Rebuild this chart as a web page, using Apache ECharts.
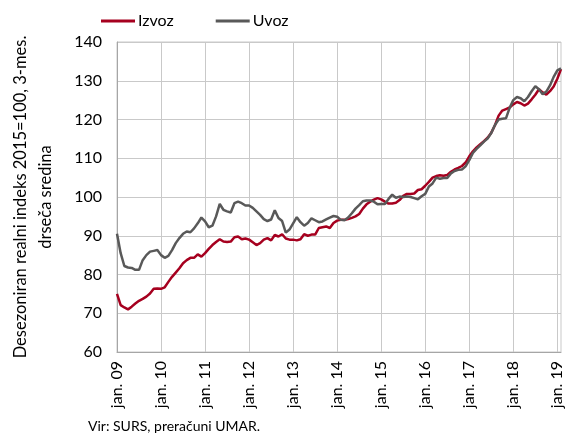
<!DOCTYPE html>
<html>
<head>
<meta charset="utf-8">
<script src="https://cdn.jsdelivr.net/npm/echarts@6/dist/echarts.min.js"></script>
<style>
  html, body { margin: 0; padding: 0; background: #fff; }
  #chart { width: 568px; height: 438px; }
</style>
</head>
<body>
<div id="chart"></div>
<script>
// monthly, jan 2009 .. feb 2019
const years = ['09', '10', '11', '12', '13', '14', '15', '16', '17', '18', '19'];
const months = [];
for (let i = 0; i < 122; i++) {
  months.push('jan. ' + years[Math.floor(i / 12)] + '|' + (i % 12 + 1));
}

const izvoz = [
  75.0, 72.1, 71.5, 71.0, 71.7, 72.5, 73.2, 73.7, 74.3, 75.1, 76.3, 76.4,
  76.3, 76.7, 78.1, 79.4, 80.5, 81.6, 82.9, 83.7, 84.3, 84.3, 85.2, 84.6,
  85.5, 86.6, 87.6, 88.4, 89.1, 88.5, 88.4, 88.5, 89.6, 89.8, 89.1, 89.3,
  89.0, 88.3, 87.6, 88.1, 89.0, 89.4, 88.8, 90.2, 89.8, 90.4, 89.3, 89.0,
  89.0, 88.8, 89.1, 90.4, 90.0, 90.3, 90.3, 92.0, 92.2, 92.4, 92.0, 93.3,
  93.9, 94.1, 94.1, 94.3, 94.6, 95.0, 95.6, 97.0, 98.1, 98.8, 99.3, 99.7,
  99.4, 98.8, 98.3, 98.3, 98.5, 99.2, 100.3, 100.8, 100.8, 100.9, 101.8, 102.0,
  102.9, 103.9, 105.0, 105.4, 105.6, 105.5, 105.7, 106.5, 107.1, 107.5, 108.0, 108.9,
  110.5, 111.8, 112.8, 113.6, 114.4, 115.3, 116.6, 118.5, 121.0, 122.3, 122.7, 123.1,
  123.9, 124.5, 124.2, 123.6, 124.1, 125.2, 126.4, 127.8, 127.0, 126.4, 127.3, 128.5,
  130.5, 133.0
];

const uvoz = [
  90.5, 85.5, 82.2, 81.8, 81.7, 81.2, 81.2, 83.7, 85.0, 85.9, 86.1, 86.3,
  85.0, 84.3, 84.8, 86.3, 88.1, 89.4, 90.5, 91.1, 90.9, 91.9, 93.2, 94.7,
  93.7, 92.2, 92.6, 95.0, 98.2, 96.7, 96.3, 96.0, 98.4, 98.8, 98.4, 97.8,
  97.8, 97.2, 96.3, 95.4, 94.3, 93.8, 94.2, 96.6, 94.6, 93.8, 90.8, 91.6,
  93.2, 94.8, 93.5, 92.6, 93.3, 94.5, 94.0, 93.5, 93.7, 94.2, 94.7, 95.1,
  94.9, 94.1, 94.0, 94.7, 95.8, 97.0, 97.9, 98.9, 99.1, 99.1, 98.8, 98.1,
  98.2, 98.2, 99.5, 100.6, 99.8, 100.1, 100.0, 100.1, 100.0, 99.7, 99.4, 100.2,
  100.8, 102.7, 103.5, 105.0, 104.7, 104.9, 104.9, 106.1, 106.7, 107.0, 107.1, 107.9,
  109.5, 111.4, 112.4, 113.3, 114.3, 115.1, 116.5, 118.6, 120.0, 120.2, 120.3, 123.0,
  125.0, 125.8, 125.5, 124.7, 125.8, 127.3, 128.6, 127.8, 126.5, 127.2, 128.8, 131.0,
  132.7, 133.2
];

const font = 'Lato, "Noto Sans", sans-serif';
const gridColor = '#c9c9c9';
const yearTick = (i) => i % 12 === 0;

const chart = echarts.init(document.getElementById('chart'), undefined, { renderer: 'canvas' });

chart.setOption({
  animation: false,
  textStyle: { fontFamily: font, color: '#000' },
  grid: {
    left: 94, right: 7, top: 42, bottom: 86,
    show: true, borderColor: gridColor, borderWidth: 1
  },
  legend: {
    left: 96, top: 8,
    icon: 'rect',
    itemWidth: 34, itemHeight: 3, itemGap: 42,
    textStyle: { fontSize: 16, fontFamily: font, color: '#000', padding: [0, 0, 0, -2] },
    data: ['Izvoz', 'Uvoz']
  },
  xAxis: {
    type: 'category',
    boundaryGap: false,
    data: months,
    axisLine: { lineStyle: { color: '#a6a6a6' } },
    axisTick: { show: false },
    axisLabel: {
      interval: yearTick,
      rotate: 90,
      fontSize: 16,
      margin: 9,
      color: '#000',
      formatter: (v) => v.split('|')[0]
    },
    splitLine: { show: true, interval: yearTick, lineStyle: { color: gridColor, width: 1 } }
  },
  yAxis: {
    type: 'value',
    min: 60, max: 140, interval: 10,
    name: 'Desezoniran realni indeks 2015=100, 3-mes.\ndrseča sredina',
    nameLocation: 'middle',
    nameGap: 59,
    nameTextStyle: { fontSize: 16.5, color: '#000', lineHeight: 25, fontFamily: font },
    axisLine: { show: true, lineStyle: { color: '#a6a6a6' } },
    axisTick: { show: false },
    axisLabel: { fontSize: 16, color: '#000', margin: 15 },
    splitLine: { lineStyle: { color: gridColor, width: 1 } }
  },
  series: [
    {
      name: 'Izvoz',
      type: 'line',
      data: izvoz,
      symbol: 'none',
      lineStyle: { color: '#a6001f', width: 2.5 },
      itemStyle: { color: '#a6001f' },
      z: 3
    },
    {
      name: 'Uvoz',
      type: 'line',
      data: uvoz,
      symbol: 'none',
      lineStyle: { color: '#595959', width: 2.5 },
      itemStyle: { color: '#595959' },
      z: 4
    }
  ],
  graphic: [
    {
      type: 'text',
      left: 88, top: 419,
      style: { text: 'Vir: SURS, preračuni UMAR.', fontSize: 14, fontFamily: font, fill: '#000' }
    }
  ]
});
</script>
</body>
</html>
